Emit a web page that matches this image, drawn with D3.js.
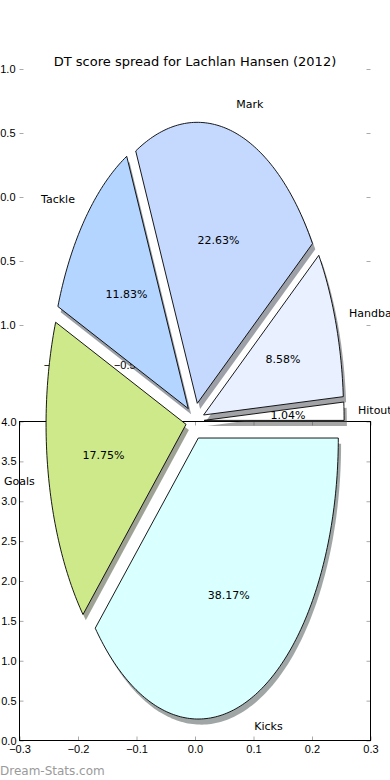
<!DOCTYPE html>
<html>
<head>
<meta charset="utf-8">
<script src="https://cdn.jsdelivr.net/npm/d3@7"></script>
<style>
  body { margin: 0; background: #fff; }
  svg { display: block; font-family: "DejaVu Sans", sans-serif; }
  .tick line { stroke: #aaa; }
  .tick text { fill: #000; font-size: 11px; }
</style>
</head>
<body>
<svg width="390" height="780"></svg>
<script>
// chart data
var title = "DT score spread for Lachlan Hansen (2012)";
var categories = ["Hitout", "Handball", "Mark", "Tackle", "Goals", "Kicks"];
var percents = [1.04, 8.58, 22.63, 11.83, 17.75, 38.17];
var sliceColors = ["#ffffff", "#e9f0ff", "#c5d9ff", "#b3d5ff", "#cde98a", "#d9ffff"];
var explode = [0.065, 0.065, 0.065, 0.065, 0.065, 0.065];

// leftover axes ticks
var topYTicks = [-1, -0.5, 0, 0.5, 1];
var topXTicks = [-1, -0.5];
var botXTicks = [-0.3, -0.2, -0.1, 0, 0.1, 0.2, 0.3];
var botYTicks = [0, 0.5, 1, 1.5, 2, 2.5, 3, 3.5, 4];

var svg = d3.select("svg");
var fmt = d3.format(".1f");

// ---- bottom axes (frame + ticks) ----
var xB = d3.scaleLinear().domain([-0.3, 0.3]).range([19.5, 370.5]);
var yB = d3.scaleLinear().domain([0, 4]).range([740.5, 421.5]);

svg.append("g").attr("transform", "translate(0,740.5)")
    .call(d3.axisBottom(xB).tickValues(botXTicks).tickFormat(fmt).tickSizeInner(-4).tickSizeOuter(0).tickPadding(5))
    .call(function(g) { g.select(".domain").remove(); });
svg.append("g").attr("transform", "translate(0,421.5)")
    .call(d3.axisTop(xB).tickValues(botXTicks).tickFormat("").tickSizeInner(-4).tickSizeOuter(0))
    .call(function(g) { g.select(".domain").remove(); });
svg.append("g").attr("transform", "translate(19.5,0)")
    .call(d3.axisLeft(yB).tickValues(botYTicks).tickFormat(fmt).tickSizeInner(-4).tickSizeOuter(0).tickPadding(3))
    .call(function(g) { g.select(".domain").remove(); });
svg.append("g").attr("transform", "translate(370.5,0)")
    .call(d3.axisRight(yB).tickValues(botYTicks).tickFormat("").tickSizeInner(-4).tickSizeOuter(0))
    .call(function(g) { g.select(".domain").remove(); });

svg.append("rect")
    .attr("x", xB(-0.3)).attr("y", yB(4))
    .attr("width", xB(0.3) - xB(-0.3)).attr("height", yB(0) - yB(4))
    .attr("fill", "none").attr("stroke", "#000").attr("stroke-width", 1);

// ---- top axes (only ticks show) ----
var xT = d3.scaleLinear().domain([-1.25, 1.25]).range([19, 370]);
var yT = d3.scaleLinear().domain([-1.25, 1.0]).range([357, 69]);

svg.append("g").attr("transform", "translate(19.5,0)")
    .call(d3.axisLeft(yT).tickValues(topYTicks).tickFormat(fmt).tickSizeInner(-4).tickSizeOuter(0).tickPadding(4))
    .call(function(g) { g.select(".domain").remove(); });
svg.append("g").attr("transform", "translate(370.5,0)")
    .call(d3.axisRight(yT).tickValues(topYTicks).tickFormat("").tickSizeInner(-4).tickSizeOuter(0))
    .call(function(g) { g.select(".domain").remove(); });
svg.append("g").attr("transform", "translate(0,357)")
    .call(d3.axisBottom(xT).tickValues(topXTicks).tickFormat(fmt).tickSizeInner(0).tickSizeOuter(0).tickPadding(4))
    .call(function(g) { g.select(".domain").remove(); });

// ---- pie (elliptical, exploded, with shadow) ----
var cx = 195, cy = 421, rx = 140, ry = 281;
var px = d3.scaleLinear().domain([-1, 1]).range([cx - rx, cx + rx]);
var py = d3.scaleLinear().domain([-1, 1]).range([cy + ry, cy - ry]);

var slices = d3.pie().sort(null).startAngle(0).endAngle(2 * Math.PI)(percents);
slices.forEach(function(s, i) {
    s.name = categories[i];
    s.color = sliceColors[i];
    s.mid = (s.startAngle + s.endAngle) / 2;
    s.ox = explode[i] * Math.cos(s.mid);
    s.oy = explode[i] * Math.sin(s.mid);
});

var line = d3.line();
function wedgePath(s) {
    var pts = [[px(s.ox), py(s.oy)]];
    var n = Math.max(4, Math.ceil((s.endAngle - s.startAngle) * 60));
    d3.range(n + 1).forEach(function(k) {
        var t = s.startAngle + (s.endAngle - s.startAngle) * k / n;
        pts.push([px(s.ox + Math.cos(t)), py(s.oy + Math.sin(t))]);
    });
    return line(pts) + "Z";
}

function darker(c) {
    var r = d3.rgb(c);
    return d3.rgb(r.r * 0.3, r.g * 0.3, r.b * 0.3).toString();
}

// shadows below all wedges
var sdx = px(0) - px(0.02), sdy = py(-0.02) - py(0);
svg.append("g")
    .attr("transform", "translate(" + (-sdx) + "," + sdy + ")")
    .selectAll("path")
    .data(slices).enter().append("path")
    .attr("d", wedgePath)
    .attr("fill", function(d) { return darker(d.color); })
    .attr("fill-opacity", 0.5)
    .attr("stroke", "none");

svg.append("g")
    .selectAll("path")
    .data(slices).enter().append("path")
    .attr("d", wedgePath)
    .attr("fill", function(d) { return d.color; })
    .attr("stroke", "#000")
    .attr("stroke-width", 0.9)
    .attr("stroke-linejoin", "miter");

// labels
svg.append("g").selectAll("text")
    .data(slices).enter().append("text")
    .attr("x", function(d) { return px(d.ox + 1.1 * Math.cos(d.mid)); })
    .attr("y", function(d) { return py(d.oy + 1.1 * Math.sin(d.mid)); })
    .attr("dy", "0.35em")
    .attr("text-anchor", function(d) { return Math.cos(d.mid) > 0 ? "start" : "end"; })
    .style("font-size", "11px")
    .text(function(d) { return d.name; });

svg.append("g").selectAll("text")
    .data(slices).enter().append("text")
    .attr("x", function(d) { return px(d.ox + 0.6 * Math.cos(d.mid)); })
    .attr("y", function(d) { return py(d.oy + 0.6 * Math.sin(d.mid)); })
    .attr("dy", "0.35em")
    .attr("text-anchor", "middle")
    .style("font-size", "11px")
    .text(function(d) { return d.data.toFixed(2) + "%"; });

// title + watermark
svg.append("text")
    .attr("x", 195).attr("y", 66)
    .attr("text-anchor", "middle")
    .style("font-size", "13px")
    .text(title);

svg.append("text")
    .attr("x", 0).attr("y", 775)
    .style("font-size", "12px")
    .style("fill", "#9a9a9a")
    .text("Dream-Stats.com");
</script>
</body>
</html>
